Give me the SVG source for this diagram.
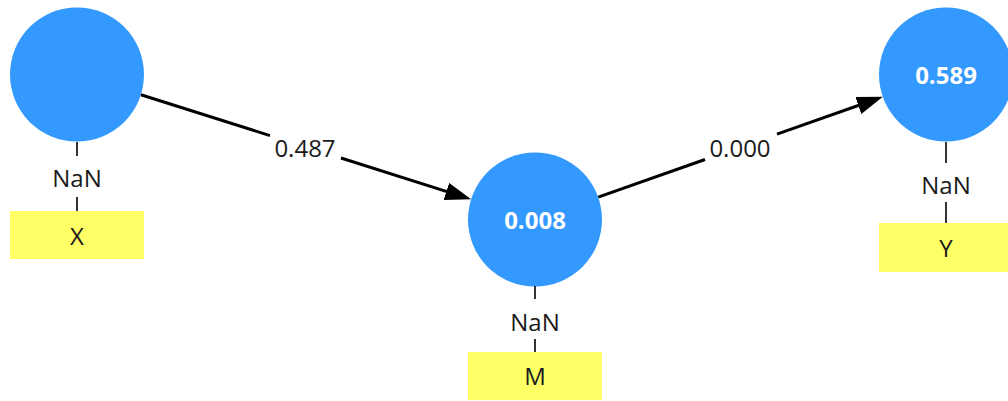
<svg xmlns="http://www.w3.org/2000/svg" width="1008" height="401" viewBox="0 0 1008 401">
<style>
.c{fill:#3399ff;}
.r{fill:#ffff66;}
.t{font-family:"Open Sans","Liberation Sans",sans-serif;font-size:24px;fill:#1a1a1a;text-anchor:middle;}
.b{font-family:"Open Sans","Liberation Sans",sans-serif;font-size:24px;font-weight:bold;fill:#fff;text-anchor:middle;}
.s{stroke:#333;stroke-width:2;}
.e{stroke:#000;stroke-width:3;fill:none;}
</style>
<defs>
<marker id="ah" viewBox="0 0 26 18" refX="18" refY="9" markerWidth="26" markerHeight="18" orient="auto" markerUnits="userSpaceOnUse">
<path d="M0,0 L26,9 L0,18 z" fill="#000"/>
</marker>
</defs>
<rect width="1008" height="401" fill="#fff"/>
<g id="connectors">
<line class="e" x1="140.9" y1="94.7" x2="270" y2="135.6"/>
<line class="e" x1="341" y1="158" x2="463.5" y2="196.9" marker-end="url(#ah)"/>
<text class="t" x="305" y="157">0.487</text>
<line class="e" x1="598.2" y1="197.2" x2="705" y2="159.5"/>
<line class="e" x1="777" y1="134.1" x2="875.3" y2="99.5" marker-end="url(#ah)"/>
<text class="t" x="740" y="157">0.000</text>
</g>
<g id="node-X">
<circle class="c" cx="77" cy="74.5" r="67"/>
<line class="s" x1="77" y1="142" x2="77" y2="156"/>
<text class="t" x="77" y="187">NaN</text>
<line class="s" x1="77" y1="197" x2="77" y2="211"/>
<rect class="r" x="10" y="211" width="134" height="48"/>
<text class="t" x="77" y="245">X</text>
</g>
<g id="node-M">
<circle class="c" cx="535" cy="219.5" r="67"/>
<text class="b" x="535" y="228.5">0.008</text>
<line class="s" x1="535" y1="286" x2="535" y2="299"/>
<text class="t" x="535" y="331">NaN</text>
<line class="s" x1="535" y1="339" x2="535" y2="352"/>
<rect class="r" x="468" y="352" width="134" height="48"/>
<text class="t" x="535" y="385">M</text>
</g>
<g id="node-Y">
<circle class="c" cx="946" cy="74.5" r="67"/>
<text class="b" x="946" y="83.5">0.589</text>
<line class="s" x1="946" y1="142" x2="946" y2="163"/>
<text class="t" x="946" y="194">NaN</text>
<line class="s" x1="946" y1="202" x2="946" y2="223"/>
<rect class="r" x="879" y="223" width="134" height="49"/>
<text class="t" x="946" y="257">Y</text>
</g>
</svg>
